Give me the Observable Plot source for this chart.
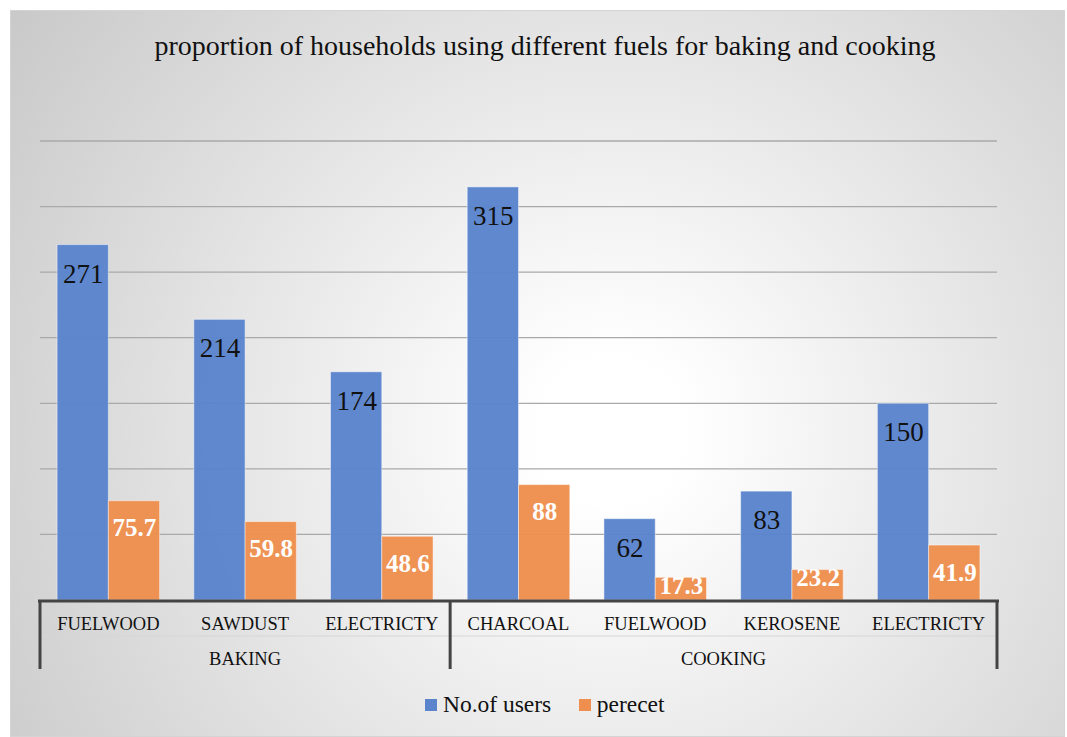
<!DOCTYPE html>
<html><head><meta charset="utf-8">
<script src="https://cdn.jsdelivr.net/npm/d3@7"></script>
<script src="https://cdn.jsdelivr.net/npm/@observablehq/plot@0.6"></script>
<style>
body{margin:0;background:#fff;}
#wrap{position:relative;width:1067px;height:737px;overflow:hidden;font-family:"Liberation Serif","Times New Roman",serif;color:#111;}
#box{position:absolute;left:10px;top:10px;width:1053px;height:725px;border:1px solid #d4d4d4;
 background:radial-gradient(circle farthest-corner at 57% 58%, #ffffff 0%, #ffffff 10%, #c9c9c9 100%);}
#title{position:absolute;left:0;width:1090px;top:32px;text-align:center;font-size:28px;line-height:1;white-space:nowrap;}
#chart{position:absolute;left:0;top:0;}
#legend{position:absolute;top:693px;left:0;width:1090px;display:flex;justify-content:center;align-items:center;font-size:23.5px;line-height:1;}
#legend .it{display:flex;align-items:center;margin:0 14px;}
#legend .sw{width:11.5px;height:11.5px;margin-right:6px;}
</style></head>
<body>
<div id="wrap">
 <div id="box"></div>
 <div id="title"></div>
 <div id="chart"></div>
 <div id="legend"></div>
</div>
<script>
const titleText = "proportion of households using different fuels for baking and cooking";
const groups = ["BAKING","BAKING","BAKING","COOKING","COOKING","COOKING","COOKING"];
const fuels = ["FUELWOOD","SAWDUST","ELECTRICTY","CHARCOAL","FUELWOOD","KEROSENE","ELECTRICTY"];
const users = [271,214,174,315,62,83,150];
const percent = [75.7,59.8,48.6,88,17.3,23.2,41.9];
const seriesNames = ["No.of users","perecet"];
const seriesColors = ["#5b84cc","#ee8f4f"];
const gridValues = [50,100,150,200,250,300,350];

const keys = fuels.map((f,i)=>groups[i]+"|"+f);
const rows = [];
keys.forEach((k,i)=>{
  rows.push({key:k, series:seriesNames[0], value:users[i]});
  rows.push({key:k, series:seriesNames[1], value:percent[i]});
});

document.getElementById("title").textContent = titleText;
const leg = document.getElementById("legend");
seriesNames.forEach((s,i)=>{
  const it = document.createElement("div"); it.className="it";
  const sw = document.createElement("div"); sw.className="sw"; sw.style.background=seriesColors[i];
  const t = document.createElement("span"); t.textContent = s;
  it.appendChild(sw); it.appendChild(t); leg.appendChild(it);
});

const plot = Plot.plot({
  width:1067, height:737,
  marginLeft:40, marginRight:70, marginTop:141, marginBottom:137,
  style:{background:"transparent", fontFamily:"'Liberation Serif', 'Times New Roman', serif", fontSize:"18.5px", color:"#111", overflow:"visible"},
  facet:{data:rows, x:"key"},
  fx:{domain:keys, paddingInner:0.25, paddingOuter:0.125, round:false, axis:null},
  x:{domain:seriesNames, padding:0, round:false, axis:null},
  y:{domain:[0,350], axis:null},
  color:{domain:seriesNames, range:seriesColors},
  marks:[
    Plot.barY(rows, {x:"series", y:"value", fill:"series", stroke:"#ffffff", strokeOpacity:0.45, strokeWidth:1, fillOpacity:0.97}),
    Plot.text(rows, {filter:d=>d.series===seriesNames[0], x:"series", y:"value", text:d=>String(d.value), dy:29, fontSize:27, fill:"#111"}),
    Plot.text(rows, {filter:d=>d.series===seriesNames[1] && d.value>=30, x:"series", y:"value", text:d=>String(d.value), dy:27, fontSize:25, fontWeight:"bold", fill:"#ffffff"}),
    Plot.text(rows, {filter:d=>d.series===seriesNames[1] && d.value<30, x:"series", y:"value", text:d=>String(d.value), dy:8, fontSize:25, fontWeight:"bold", fill:"#ffffff"})
  ]
});
document.getElementById("chart").appendChild(plot);

// frame elements placed with the plot's own scales
const svg = d3.select(plot);
const fx = plot.scale("fx"), y = plot.scale("y");
const [xa, xb] = fx.range;
const y0 = y.apply(0);
const bw = fx.bandwidth;
// gridlines under bars
const gg = svg.insert("g", "g");
gridValues.forEach(v=>{
  gg.append("line").attr("x1",xa).attr("x2",xb).attr("y1",y.apply(v)).attr("y2",y.apply(v))
    .attr("stroke","#a9a9a9").attr("stroke-width",1.3);
});
// group boundaries
const uniqGroups = [...new Set(groups)];
const bounds = [xa];
uniqGroups.forEach(g=>{
  const idx = groups.lastIndexOf(g);
  if (idx < keys.length-1) bounds.push((fx.apply(keys[idx])+bw+fx.apply(keys[idx+1]))/2);
});
bounds.push(xb);
const ax = svg.append("g");
ax.append("line").attr("x1",xa).attr("x2",xb).attr("y1",y0+36).attr("y2",y0+36).attr("stroke","#d6d6d6").attr("stroke-width",1);
ax.append("line").attr("x1",xa-2).attr("x2",xb+2).attr("y1",y0+1).attr("y2",y0+1).attr("stroke","#444").attr("stroke-width",3);
bounds.forEach(b=>{
  ax.append("line").attr("x1",b).attr("x2",b).attr("y1",y0).attr("y2",y0+69).attr("stroke","#444").attr("stroke-width",3);
});
keys.forEach((k,i)=>{
  ax.append("text").attr("x",fx.apply(k)+bw/2).attr("y",y0+30)
    .attr("text-anchor","middle").attr("font-size",18.5).attr("fill","#111").text(fuels[i]);
});
uniqGroups.forEach((g,gi)=>{
  ax.append("text").attr("x",(bounds[gi]+bounds[gi+1])/2).attr("y",y0+65)
    .attr("text-anchor","middle").attr("font-size",18.5).attr("fill","#111").text(g);
});
</script>
</body></html>
